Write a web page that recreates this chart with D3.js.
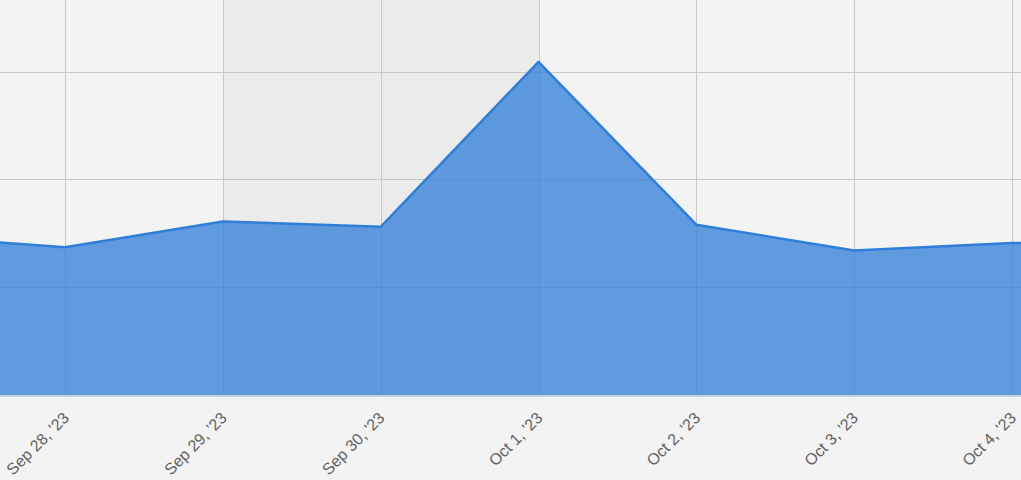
<!DOCTYPE html>
<html><head><meta charset="utf-8">
<script src="https://cdn.jsdelivr.net/npm/d3@7"></script>
<style>html,body{margin:0;padding:0;background:#f3f3f3;}svg{display:block;}</style>
</head><body><svg id="c" width="1021" height="480"></svg>
<script>
const dates = ["2023-09-27","2023-09-28","2023-09-29","2023-09-30","2023-10-01","2023-10-02","2023-10-03","2023-10-04","2023-10-05"];
const values = [148, 137, 161, 156, 309, 158, 134, 141, 142];
const tickDates = ["2023-09-28","2023-09-29","2023-09-30","2023-10-01","2023-10-02","2023-10-03","2023-10-04"];
const yTicks = [0, 100, 200, 300, 400];
const bandRange = ["2023-09-29","2023-10-01"];

const parse = d3.utcParse("%Y-%m-%d");
const W = 1021, H = 480, bottom = 395;
const svg = d3.select("#c");
const x = d3.scaleUtc().domain([parse("2023-09-28"), parse("2023-10-04")]).range([65, 1012]);
const y = d3.scaleLinear().domain([0, 300]).range([bottom, 71.6]);
const data = dates.map((d,i)=>({d:parse(d), v:values[i]}));

svg.append("rect").attr("width",W).attr("height",H).attr("fill","#f3f3f3");
svg.append("defs").append("clipPath").attr("id","plot").append("rect").attr("x",0).attr("y",0).attr("width",W).attr("height",bottom);
const g = svg.append("g").attr("clip-path","url(#plot)");

g.append("rect").attr("x", x(parse(bandRange[0]))).attr("y",0)
  .attr("width", x(parse(bandRange[1])) - x(parse(bandRange[0]))).attr("height", bottom)
  .attr("fill","rgba(0,0,0,0.03)");

g.selectAll("line.h").data(yTicks).join("line").attr("class","h")
  .attr("x1",0).attr("x2",W).attr("y1",d=>Math.round(y(d))+0.5).attr("y2",d=>Math.round(y(d))+0.5)
  .attr("stroke","#c8c8c8").attr("stroke-width",1);
g.selectAll("line.v").data(tickDates).join("line").attr("class","v")
  .attr("x1",d=>Math.round(x(parse(d)))+0.5).attr("x2",d=>Math.round(x(parse(d)))+0.5).attr("y1",0).attr("y2",bottom)
  .attr("stroke","#c8c8c8").attr("stroke-width",1);

g.append("path").datum(data)
  .attr("d", d3.area().x(d=>x(d.d)).y0(y(0)).y1(d=>y(d.v)))
  .attr("fill","rgba(47,126,216,0.75)");
g.append("path").datum(data)
  .attr("d", d3.line().x(d=>x(d.d)).y(d=>y(d.v)))
  .attr("fill","none").attr("stroke","#2f7ed8").attr("stroke-width",2.5).attr("stroke-linejoin","round");

svg.append("line").attr("x1",0).attr("x2",W).attr("y1",bottom+1).attr("y2",bottom+1)
  .attr("stroke","#c0d0e0").attr("stroke-width",2);

const fmt = d3.utcFormat("%b %-d, '%y");
svg.selectAll("text.xl").data(tickDates).join("text").attr("class","xl")
  .attr("transform", d=>`translate(${x(parse(d))+5},${bottom+24}) rotate(-45)`)
  .attr("text-anchor","end")
  .attr("font-family","'Liberation Sans', Arial, sans-serif")
  .attr("font-size",16).attr("fill","#606060")
  .text(d=>fmt(parse(d)));
</script></body></html>
